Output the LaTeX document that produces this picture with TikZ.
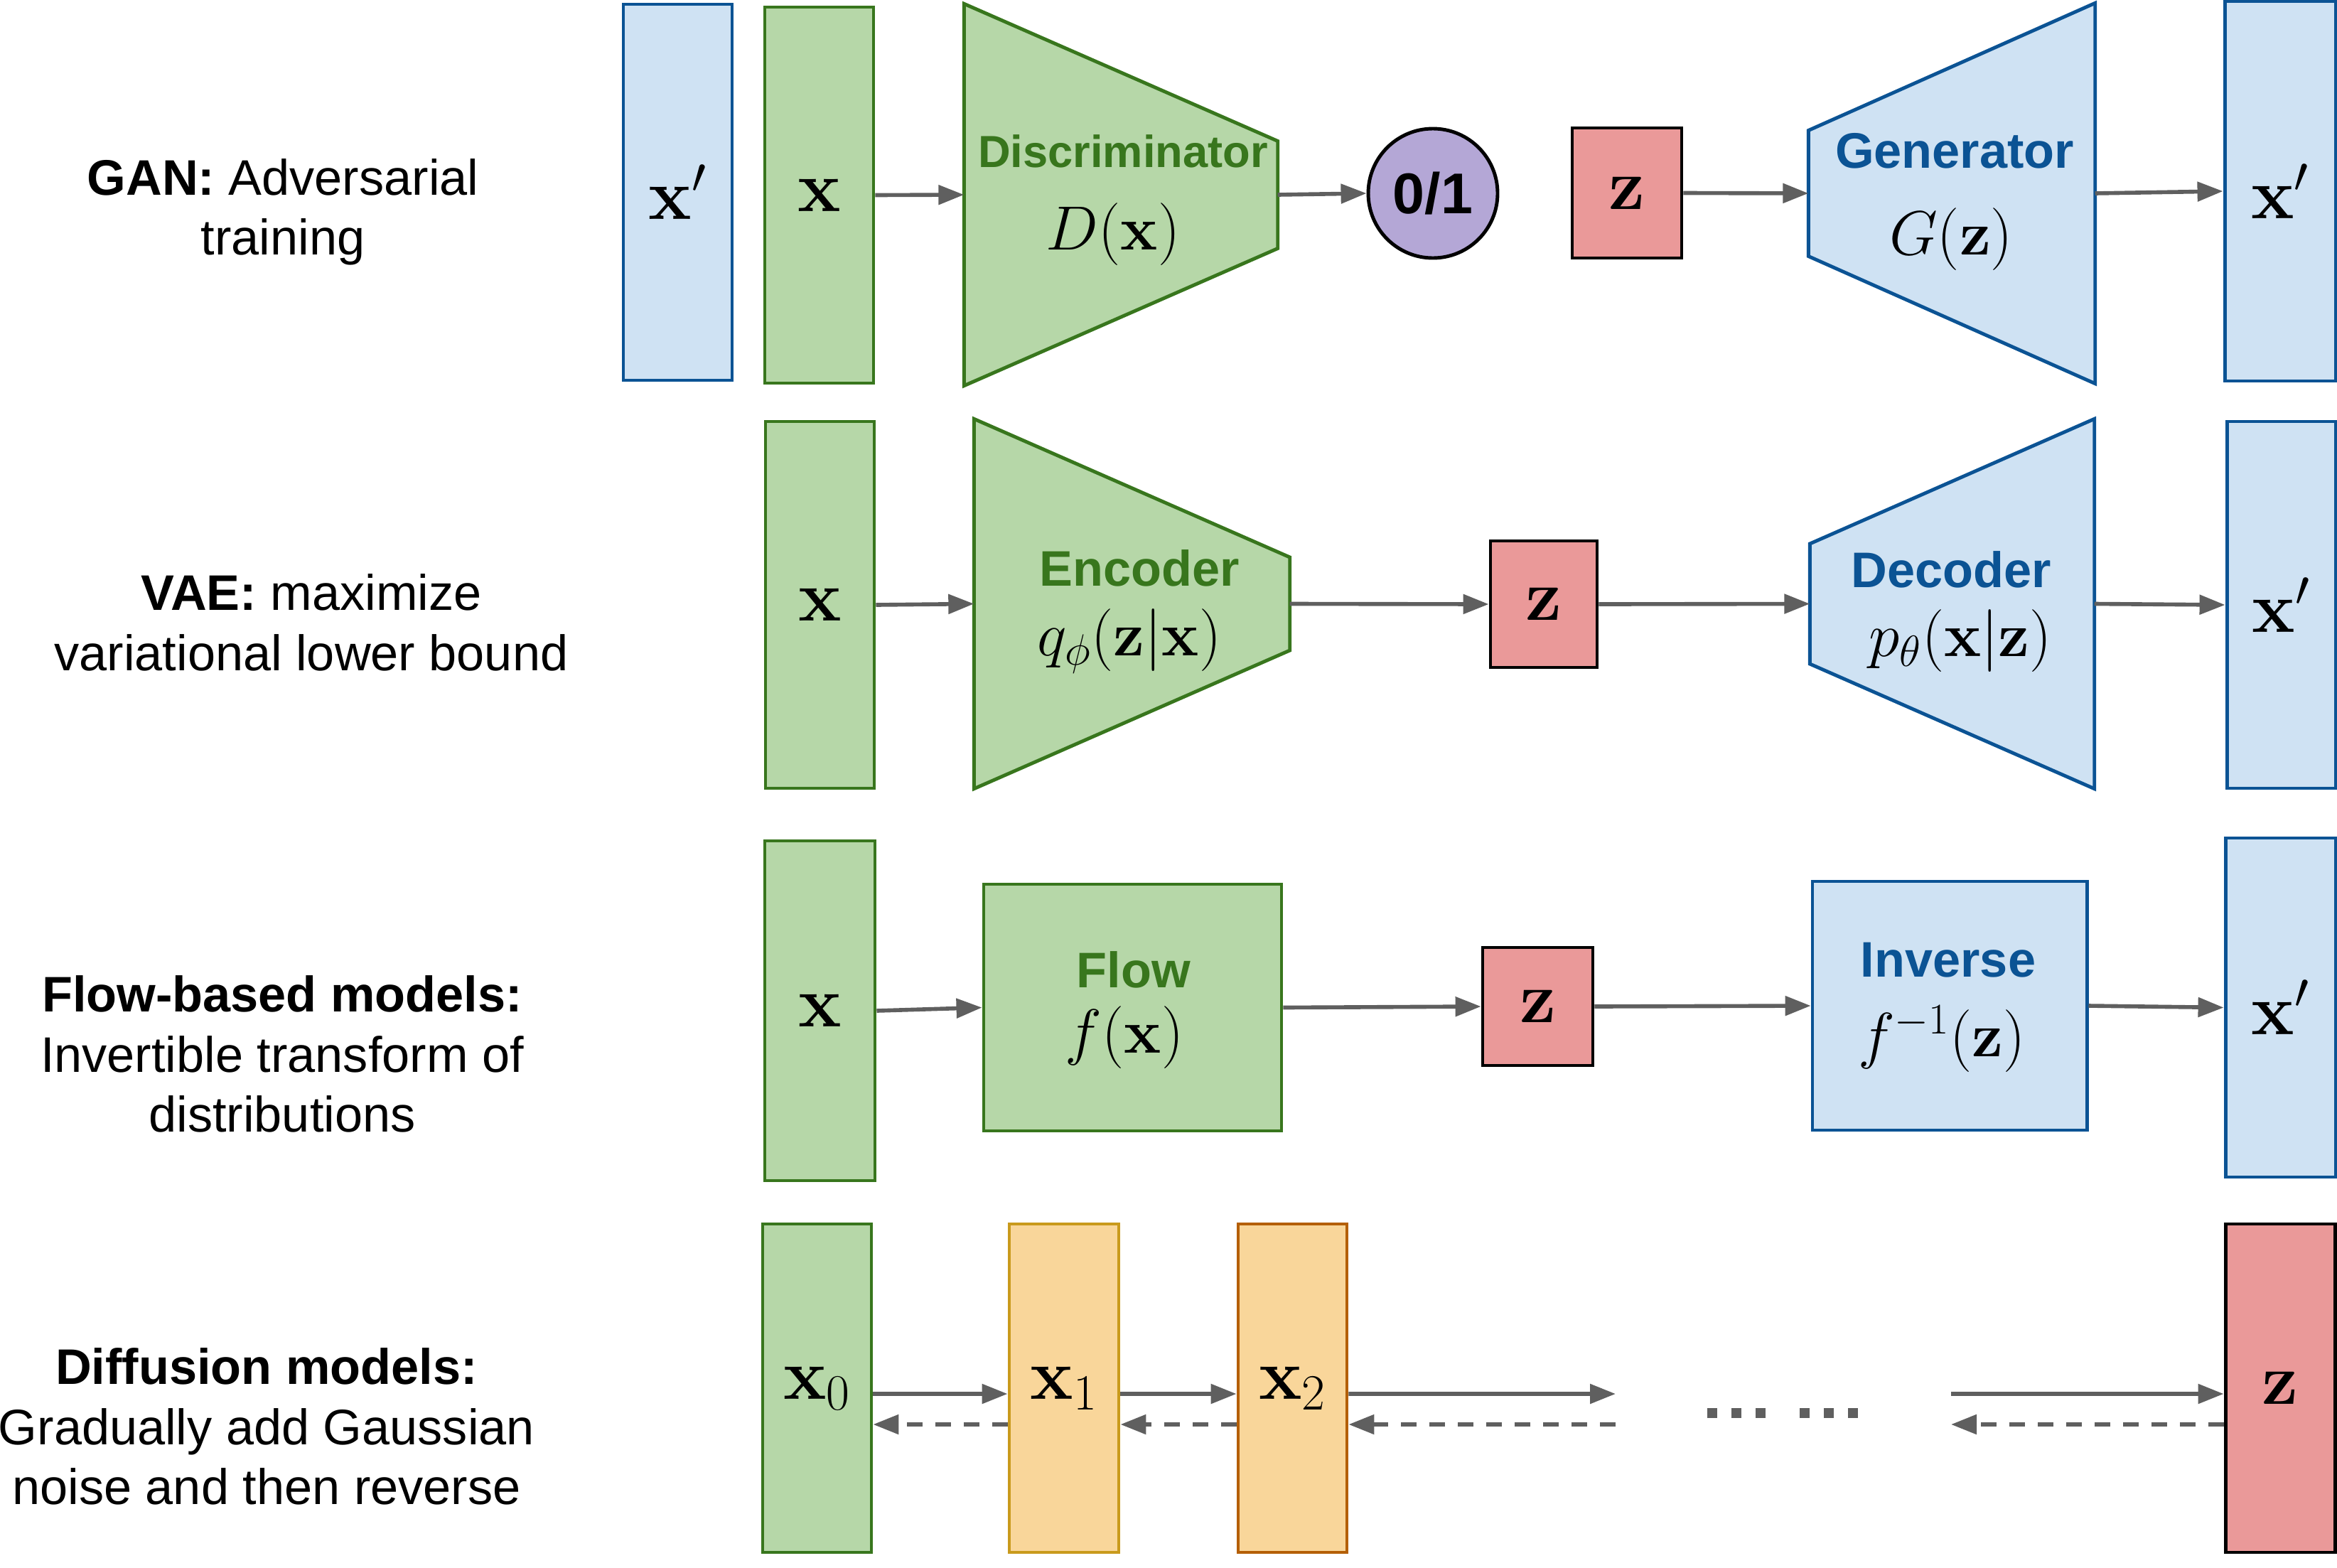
\RequirePackage{fix-cm}
\documentclass[tikz,border=0pt]{standalone}
\usepackage{amsmath}
\usepackage[no-math]{fontspec}
\setmainfont{Liberation Sans}
\usepackage{tikz}
\usetikzlibrary{arrows.meta,calc}

\definecolor{gfill}{HTML}{B6D7A8}
\definecolor{gline}{HTML}{38761D}
\definecolor{bfill}{HTML}{CFE2F3}
\definecolor{bline}{HTML}{0B5394}
\definecolor{rfill}{HTML}{EA9999}
\definecolor{pfill}{HTML}{B4A7D6}
\definecolor{ofill}{HTML}{F9D69A}
\definecolor{yline}{HTML}{C99A1C}
\definecolor{oline}{HTML}{B45F06}
\definecolor{arrowgray}{HTML}{5F5F5F}

\tikzset{
    block/.style={line width=1.4pt, inner sep=0pt, font=\fontsize{29}{34}\selectfont},
    dims/.style 2 args={minimum width=#1, minimum height=#2},
    greenbox/.style={block, draw=gline, fill=gfill},
    bluebox/.style={block, draw=bline, fill=bfill},
    redbox/.style={block, draw=black, fill=rfill},
    goldbox/.style={block, draw=yline, fill=ofill},
    rustbox/.style={block, draw=oline, fill=ofill},
    trapbox/.style={inner sep=0pt},
    greenshape/.style={draw=gline, fill=gfill, line width=1.4pt},
    blueshape/.style={draw=bline, fill=bfill, line width=1.4pt},
    modtitle/.style={font=\fontsize{20}{24}\selectfont\bfseries, inner sep=0pt},
    mathlbl/.style={font=\fontsize{25}{30}\selectfont, inner sep=0pt},
    rowlabel/.style={font=\fontsize{20}{24}\selectfont, align=center, inner sep=0pt},
    fwd/.style={draw=arrowgray, line width=1.6pt, -{Triangle[length=0.36cm, width=0.27cm]}},
    bwd/.style={fwd, dash pattern=on 0.22cm off 0.18cm}
}

\begin{document}
\begin{tikzpicture}[x=1cm, y=-1cm]
    \useasboundingbox (0, 0) rectangle (32.88, 22.05);

    % GAN
    \node [rowlabel] (capGAN) at (3.98, 2.98) {\textbf{GAN:} Adversarial\\training};
    \node [bluebox, dims={1.53cm}{5.29cm}] (GANxf) at (9.535, 2.705) {$\mathbf{x}'$};
    \node [greenbox, dims={1.53cm}{5.29cm}] (GANx) at (11.525, 2.745) {$\mathbf{x}$};
    \node [trapbox, dims={4.40cm}{5.36cm}] (Disc) at (15.77, 2.74) {};
    \draw [greenshape] (Disc.north west) -- ([yshift=0.755cm]Disc.east)
        -- ([yshift=-0.755cm]Disc.east) -- (Disc.south west) -- cycle;
    \node [modtitle, gline, font=\fontsize{18}{22}\selectfont\bfseries] (DiscT) at (15.80, 2.13) {Discriminator};
    \node [mathlbl] (DiscF) at (15.66, 3.30) {$D(\mathbf{x})$};
    \node [circle, draw=black, fill=pfill, line width=1.4pt, minimum size=1.82cm, inner sep=0pt,
        font=\fontsize{23}{27}\selectfont\bfseries] (Out) at (20.16, 2.72) {0/1};
    \node [redbox, dims={1.54cm}{1.83cm}] (GANz) at (22.89, 2.715) {$\mathbf{z}$};
    \node [trapbox, dims={4.02cm}{5.34cm}] (Gen) at (27.46, 2.72) {};
    \draw [blueshape] (Gen.north east) -- (Gen.south east)
        -- ([yshift=-0.885cm]Gen.west) -- ([yshift=0.885cm]Gen.west) -- cycle;
    \node [modtitle, bline] (GenT) at (27.50, 2.12) {Generator};
    \node [mathlbl] (GenF) at (27.45, 3.37) {$G(\mathbf{z})$};
    \node [bluebox, dims={1.56cm}{5.34cm}] (GANxr) at (32.08, 2.69) {$\mathbf{x}'$};

    \draw [fwd] (GANx.east) -- (Disc.west);
    \draw [fwd] (Disc.east) -- (Out.west);
    \draw [fwd] (GANz.east) -- (Gen.west);
    \draw [fwd] (Gen.east) -- (GANxr.west);

    % VAE
    \node [rowlabel] (capVAE) at (4.38, 8.76) {\textbf{VAE:} maximize\\variational lower bound};
    \node [greenbox, dims={1.53cm}{5.16cm}] (VAEx) at (11.535, 8.51) {$\mathbf{x}$};
    \node [trapbox, dims={4.43cm}{5.19cm}] (Enc) at (15.925, 8.495) {};
    \draw [greenshape] (Enc.north west) -- ([yshift=0.655cm]Enc.east)
        -- ([yshift=-0.655cm]Enc.east) -- (Enc.south west) -- cycle;
    \node [modtitle, gline] (EncT) at (16.03, 7.99) {Encoder};
    \node [mathlbl] (EncF) at (15.89, 9.02) {$q_\phi(\mathbf{z}|\mathbf{x})$};
    \node [redbox, dims={1.50cm}{1.78cm}] (VAEz) at (21.72, 8.50) {$\mathbf{z}$};
    \node [trapbox, dims={3.99cm}{5.19cm}] (Dec) at (27.465, 8.495) {};
    \draw [blueshape] (Dec.north east) -- (Dec.south east)
        -- ([yshift=-0.845cm]Dec.west) -- ([yshift=0.845cm]Dec.west) -- cycle;
    \node [modtitle, bline] (DecT) at (27.45, 8.01) {Decoder};
    \node [mathlbl] (DecF) at (27.58, 9.02) {$p_\theta(\mathbf{x}|\mathbf{z})$};
    \node [bluebox, dims={1.53cm}{5.16cm}] (VAExr) at (32.095, 8.51) {$\mathbf{x}'$};

    \draw [fwd] (VAEx.east) -- (Enc.west);
    \draw [fwd] (Enc.east) -- (VAEz.west);
    \draw [fwd] (VAEz.east) -- (Dec.west);
    \draw [fwd] (Dec.east) -- (VAExr.west);

    % Flow-based
    \node [rowlabel] (capFlow) at (3.97, 14.83) {\textbf{Flow-based models:}\\Invertible transform of\\distributions};
    \node [greenbox, dims={1.55cm}{4.78cm}] (FLx) at (11.535, 14.22) {$\mathbf{x}$};
    \node [greenbox, dims={4.19cm}{3.47cm}] (Flow) at (15.935, 14.175) {};
    \node [modtitle, gline] (FlowT) at (15.95, 13.64) {Flow};
    \node [mathlbl] (FlowF) at (15.82, 14.60) {$f(\mathbf{x})$};
    \node [redbox, dims={1.55cm}{1.66cm}] (FLz) at (21.635, 14.16) {$\mathbf{z}$};
    \node [bluebox, dims={3.86cm}{3.50cm}] (Inv) at (27.43, 14.15) {};
    \node [modtitle, bline] (InvT) at (27.41, 13.51) {Inverse};
    \node [mathlbl] (InvF) at (27.32, 14.62) {$f^{-1}(\mathbf{z})$};
    \node [bluebox, dims={1.55cm}{4.77cm}] (FLxr) at (32.085, 14.175) {$\mathbf{x}'$};

    \draw [fwd] (FLx.east) -- (Flow.west);
    \draw [fwd] (Flow.east) -- (FLz.west);
    \draw [fwd] (FLz.east) -- (Inv.west);
    \draw [fwd] (Inv.east) -- (FLxr.west);

    % Diffusion
    \node [rowlabel] (capDiff) at (3.75, 20.07) {\textbf{Diffusion models:}\\Gradually add Gaussian\\noise and then reverse};
    \node [greenbox, dims={1.53cm}{4.62cm}] (X0) at (11.495, 19.53) {$\mathbf{x}_0$};
    \node [goldbox, dims={1.54cm}{4.62cm}] (X1) at (14.97, 19.53) {$\mathbf{x}_1$};
    \node [rustbox, dims={1.53cm}{4.62cm}] (X2) at (18.185, 19.53) {$\mathbf{x}_2$};
    \node [redbox, dims={1.54cm}{4.62cm}] (XT) at (32.08, 19.53) {$\mathbf{z}$};
    \coordinate (SkipL) at (22.73, 19.61);
    \coordinate (SkipR) at (27.45, 19.61);

    \draw [fwd] ([yshift=-0.08cm]X0.east) -- ([yshift=-0.08cm]X1.west);
    \draw [fwd] ([yshift=-0.08cm]X1.east) -- ([yshift=-0.08cm]X2.west);
    \draw [fwd] ([yshift=-0.08cm]X2.east) -- (SkipL);
    \draw [fwd] (SkipR) -- ([yshift=-0.08cm]XT.west);

    \draw [bwd] ([yshift=-0.51cm]X1.west) -- ([yshift=-0.51cm]X0.east);
    \draw [bwd] ([yshift=-0.51cm]X2.west) -- ([yshift=-0.51cm]X1.east);
    \draw [bwd] ([yshift=-0.43cm]SkipL) -- ([yshift=-0.51cm]X2.east);
    \draw [bwd] ([yshift=-0.51cm]XT.west) -- ([yshift=-0.43cm]SkipR);

    % gap dots
    \foreach \dx in {24.09, 24.43, 24.77, 25.39, 25.73, 26.07}
        \fill [arrowgray] (\dx-0.07, 19.81) rectangle ++(0.14, 0.14);
\end{tikzpicture}
\end{document}
